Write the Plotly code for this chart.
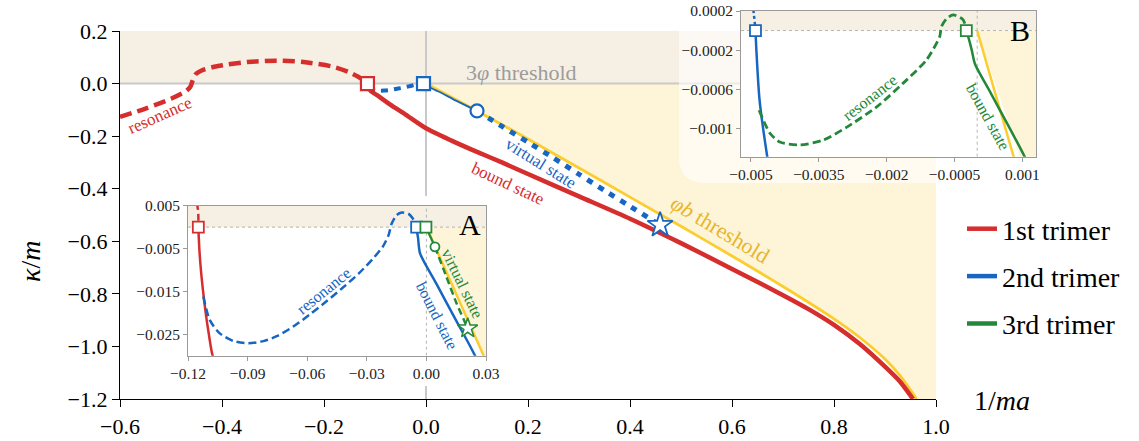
import plotly.graph_objects as go

W, H = 1139, 441
FONT = "Liberation Serif"

# ---------------- data ----------------
# phi-b threshold (shared by main panel and insets)
thr_x = [0, 0.1, 0.2, 0.3, 0.4, 0.5, 0.6, 0.7, 0.8, 0.85, 0.9, 0.93, 0.962]
thr_y = [0, -0.104, -0.211, -0.321, -0.432, -0.543, -0.656, -0.772, -0.895, -0.965, -1.048, -1.112, -1.2]

# 1st trimer
red_res_x = [-0.6, -0.55, -0.5, -0.47, -0.462, -0.457, -0.452, -0.44, -0.41, -0.35, -0.293, -0.24,
             -0.182, -0.15, -0.133, -0.1153, -0.1148]
red_res_y = [-0.127, -0.095, -0.058, -0.028, -0.012, 0.015, 0.035, 0.05, 0.066, 0.082, 0.087, 0.082,
             0.064, 0.043, 0.026, 0.005, 0.0]
red_bound_x = [-0.1148, -0.1143, -0.1135, -0.1124, -0.1111, -0.1095, -0.1076, -0.097, -0.07, -0.04, 0, 0.05,
               0.1, 0.15, 0.2, 0.3, 0.4, 0.5, 0.6, 0.7, 0.75, 0.8, 0.85, 0.9, 0.93, 0.955]
red_bound_y = [0, -0.005, -0.01, -0.015, -0.02, -0.025, -0.03, -0.043, -0.08, -0.118, -0.17, -0.217,
               -0.26, -0.301, -0.344, -0.429, -0.514, -0.607, -0.705, -0.805, -0.858, -0.918, -0.99,
               -1.077, -1.135, -1.2]

# 2nd trimer
blue_res_x = [-0.1123, -0.109, -0.104, -0.097, -0.0896, -0.082, -0.075, -0.067, -0.059, -0.05, -0.042,
              -0.034, -0.027, -0.022, -0.019, -0.0175, -0.015, -0.0124, -0.009, -0.0065, -0.0051, -0.0049]
blue_res_y = [-0.0162, -0.0217, -0.0248, -0.0266, -0.0271, -0.0266, -0.0254, -0.0232, -0.0205, -0.0172,
              -0.0141, -0.0108, -0.0074, -0.0046, -0.0018, 0.0008, 0.0028, 0.0034, 0.0031, 0.0018, 0.0006, 0.0]
blue_bound_x = [-0.0049, -0.00488, -0.00481, -0.00464, -0.0042, -0.0032, 0.005, 0.015, 0.0245, 0.06, 0.1]
blue_bound_y = [0, -0.0002, -0.00071, -0.00129, -0.0025, -0.0061, -0.0132, -0.0218, -0.03, -0.066, -0.104]
blue_virt_x = [0.1, 0.15, 0.2, 0.25, 0.3, 0.35, 0.4, 0.459]
blue_virt_y = [-0.104, -0.164, -0.223, -0.283, -0.345, -0.407, -0.467, -0.538]

# 3rd trimer
green_res_x = [-0.00482, -0.00458, -0.00436, -0.00392, -0.0034, -0.00289, -0.00222, -0.00164, -0.00112,
               -0.00083, -0.00079, -0.00068, -0.00053, -0.00031, -0.00024]
green_res_y = [-0.000815, -0.00105, -0.00114, -0.00117, -0.00112, -0.00099, -0.00078, -0.00054, -0.0003,
               -0.000064, 0.00004, 0.00012, 0.00016, 0.00011, 0.0]
green_bound_x = [-0.00024, -0.0002, -0.00012, -0.00005, 0.0003, 0.00105, 0.0025, 0.0043]
green_bound_y = [0, -0.00006, -0.0002, -0.00034, -0.00064, -0.00129, -0.0027, -0.0046]
green_virt_x = [0.0043, 0.01, 0.0152, 0.0208]
green_virt_y = [-0.0046, -0.0115, -0.0178, -0.0236]

# axes ticks
main_xticks = [-0.6, -0.4, -0.2, 0.0, 0.2, 0.4, 0.6, 0.8, 1.0]
main_yticks = [0.2, 0.0, -0.2, -0.4, -0.6, -0.8, -1.0, -1.2]
a_xticks = [-0.12, -0.09, -0.06, -0.03, 0.0, 0.03]
a_xlabels = ["\u22120.12", "\u22120.09", "\u22120.06", "\u22120.03", "0.00", "0.03"]
a_yticks = [0.005, -0.005, -0.015, -0.025]
a_ylabels = ["0.005", "\u22120.005", "\u22120.015", "\u22120.025"]
b_xticks = [-0.005, -0.0035, -0.002, -0.0005, 0.001]
b_xlabels = ["\u22120.005", "\u22120.0035", "\u22120.002", "\u22120.0005", "0.001"]
b_yticks = [0.0002, -0.0002, -0.0006, -0.001]
b_ylabels = ["0.0002", "\u22120.0002", "\u22120.0006", "\u22120.001"]

legend_names = ["1st trimer", "2nd trimer", "3rd trimer"]

# ---------------- style ----------------
RED, BLUE, GREEN = "#d62d2d", "#1766c2", "#23883a"
YEL, YEL_TXT = "#fbcd2f", "#e6b62c"
BEIGE, YFILL, GREY = "#f6efe3", "#fef4d8", "#c9c9c9"

MAIN_X = [-0.6, 1.0]
MAIN_Y = [-1.2, 0.2]
A_X = [-0.12, 0.03]
A_Y = [-0.030, 0.005]
B_X = [-0.00522, 0.0013]
B_Y = [-0.00129, 0.0002]

fig = go.Figure()


def add_line(x, y, color, width, dash=None, ax="", shape="spline"):
    fig.add_trace(go.Scatter(
        x=x, y=y, mode="lines",
        line=dict(color=color, width=width, dash=dash, shape=shape, smoothing=0.7),
        xaxis="x" + ax, yaxis="y" + ax, showlegend=False, hoverinfo="skip"))


def add_marker(x, y, color, symbol, size, ax="", lw=2.0):
    fig.add_trace(go.Scatter(
        x=[x], y=[y], mode="markers",
        marker=dict(symbol=symbol, size=size, color="white", line=dict(color=color, width=lw)),
        xaxis="x" + ax, yaxis="y" + ax, showlegend=False, hoverinfo="skip"))


fill_x = thr_x + [1.0, 1.0]
fill_y = thr_y + [-1.2, 0.0]


def add_fill(ax):
    fig.add_trace(go.Scatter(x=fill_x, y=fill_y, mode="lines", fill="toself", fillcolor=YFILL,
                             line=dict(width=0, shape="spline", smoothing=0.5), xaxis="x" + ax, yaxis="y" + ax,
                             showlegend=False, hoverinfo="skip"))


# ---------------- main panel ----------------
add_fill("")
add_line(MAIN_X, [0, 0], GREY, 2, ax="", shape="linear")
add_line([0, 0], MAIN_Y, GREY, 2, ax="", shape="linear")
add_line(thr_x, thr_y, YEL, 2.8)
add_line(red_res_x, red_res_y, RED, 4.5, dash="12px,6px")
add_line(red_bound_x, red_bound_y, RED, 4.5)
add_line(blue_res_x, blue_res_y, BLUE, 4, dash="7px,6px")
add_line(blue_bound_x, blue_bound_y, BLUE, 1.8)
add_line(blue_virt_x, blue_virt_y, BLUE, 5, dash="6px,7px")
add_marker(red_bound_x[0], red_bound_y[0], RED, "square", 13, lw=2.2)
add_marker(blue_bound_x[0], blue_bound_y[0], BLUE, "square", 13, lw=2.2)
add_marker(blue_virt_x[0], blue_virt_y[0], BLUE, "circle", 13, lw=2.2)
add_marker(blue_virt_x[-1], blue_virt_y[-1], BLUE, "star", 19, lw=1.8)

# box layer (x2/y2) - invisible helper subplot spanning the whole figure
fig.add_trace(go.Scatter(x=[None], y=[None], xaxis="x2", yaxis="y2", showlegend=False))

# ---------------- inset A (x3/y3) ----------------
add_fill("3")
add_line(A_X, [0, 0], "#b5b5b5", 1, dash="dot", ax="3", shape="linear")
add_line([0, 0], A_Y, "#b5b5b5", 1, dash="dot", ax="3", shape="linear")
add_line(thr_x, thr_y, YEL, 2.5, ax="3")
add_line(red_res_x, red_res_y, RED, 2.5, dash="7px,4px", ax="3")
add_line(red_bound_x, red_bound_y, RED, 2.5, ax="3")
add_line(blue_res_x, blue_res_y, BLUE, 2.5, dash="8px,4px", ax="3")
add_line(blue_bound_x, blue_bound_y, BLUE, 2.5, ax="3")
add_line(green_bound_x, green_bound_y, GREEN, 2.2, ax="3")
add_line(green_virt_x, green_virt_y, GREEN, 2.5, dash="7px,4px", ax="3")
add_marker(red_bound_x[0], red_bound_y[0], RED, "square", 11, ax="3", lw=1.8)
add_marker(blue_bound_x[0], blue_bound_y[0], BLUE, "square", 11, ax="3", lw=1.8)
add_marker(green_bound_x[0], green_bound_y[0], GREEN, "square", 11, ax="3", lw=1.8)
add_marker(green_virt_x[0], green_virt_y[0], GREEN, "circle", 9, ax="3", lw=1.8)
add_marker(green_virt_x[-1], green_virt_y[-1], GREEN, "star", 15, ax="3", lw=1.5)

# ---------------- inset B (x4/y4) ----------------
add_fill("4")
add_line(B_X, [0, 0], "#b5b5b5", 1, dash="dot", ax="4", shape="linear")
add_line([0, 0], B_Y, "#b5b5b5", 1, dash="dot", ax="4", shape="linear")
add_line(thr_x, thr_y, YEL, 2.5, ax="4")
add_line(blue_res_x, blue_res_y, BLUE, 2.5, dash="3px,3px", ax="4")
add_line(blue_bound_x, blue_bound_y, BLUE, 2.5, ax="4")
add_line(green_res_x, green_res_y, GREEN, 2.8, dash="8px,4px", ax="4")
add_line(green_bound_x, green_bound_y, GREEN, 2.5, ax="4")
add_marker(blue_bound_x[0], blue_bound_y[0], BLUE, "square", 11, ax="4", lw=1.8)
add_marker(green_bound_x[0], green_bound_y[0], GREEN, "square", 11, ax="4", lw=1.8)

# ---------------- legend entries ----------------
for name, col in zip(legend_names, [RED, BLUE, GREEN]):
    fig.add_trace(go.Scatter(x=[None], y=[None], mode="lines", name=name,
                             line=dict(color=col, width=4.5), legendgroup=name))

# ---------------- shapes ----------------
def rrect(x0, y0, x1, y1, r):
    return (f"M {x0+r},{y0} L {x1-r},{y0} Q {x1},{y0} {x1},{y0+r} L {x1},{y1-r} Q {x1},{y1} {x1-r},{y1} "
            f"L {x0+r},{y1} Q {x0},{y1} {x0},{y1-r} L {x0},{y0+r} Q {x0},{y0} {x0+r},{y0} Z")


shapes = [
    dict(type="rect", xref="x", yref="y", x0=MAIN_X[0], x1=MAIN_X[1], y0=0, y1=MAIN_Y[1],
         fillcolor=BEIGE, line=dict(width=0), layer="below"),
    dict(type="path", xref="x2", yref="y2", path=rrect(126, 196, 500, 386, 10),
         fillcolor="white", line=dict(width=0), layer="below"),
    dict(type="path", xref="x2", yref="y2", path=rrect(679, -30, 1070, 183, 26),
         fillcolor="rgba(255,255,255,0.62)", line=dict(width=0), layer="below"),
    dict(type="rect", xref="x3", yref="y3", x0=A_X[0], x1=A_X[1], y0=A_Y[0], y1=A_Y[1],
         fillcolor="white", line=dict(width=0), layer="below"),
    dict(type="rect", xref="x3", yref="y3", x0=A_X[0], x1=A_X[1], y0=0, y1=A_Y[1],
         fillcolor=BEIGE, line=dict(width=0), layer="below"),
    dict(type="rect", xref="x4", yref="y4", x0=B_X[0], x1=B_X[1], y0=B_Y[0], y1=B_Y[1],
         fillcolor="white", line=dict(width=0), layer="below"),
    dict(type="rect", xref="x4", yref="y4", x0=B_X[0], x1=B_X[1], y0=0, y1=B_Y[1],
         fillcolor=BEIGE, line=dict(width=0), layer="below"),
]

# ---------------- annotations ----------------
def txt(text, x, y, color, size, angle=0, ax="", **kw):
    return dict(text=text, x=x, y=y, xref="x" + ax, yref="y" + ax, showarrow=False,
                xanchor="center", yanchor="middle",
                textangle=angle, font=dict(family=FONT, size=size, color=color), **kw)


annotations = [
    txt("3<i>φ</i> threshold", 0.188, 0.044, "#9c9c9c", 22),
    txt("resonance", -0.522, -0.123, RED, 17, -24),
    txt("bound state", 0.16, -0.379, RED, 17, 25),
    txt("virtual state", 0.225, -0.303, BLUE, 17, 32),
    txt("<i>φb</i> threshold", 0.578, -0.554, YEL_TXT, 22, 31),
    txt("resonance", -0.0514, -0.0149, BLUE, 16, -39, ax="3"),
    txt("bound state", 0.0052, -0.0207, BLUE, 16, 63, ax="3"),
    txt("virtual state", 0.0182, -0.0131, GREEN, 16, 64, ax="3"),
    txt("A", 0.0219, 0.0005, "black", 30, ax="3"),
    txt("resonance", -0.00237, -0.000687, GREEN, 16, -38, ax="4"),
    txt("bound state", 0.00024, -0.000875, GREEN, 16, 61, ax="4"),
    txt("B", 0.00094, 0.000005, "black", 30, ax="4"),
    dict(text="<i>κ</i>/<i>m</i>", x=30 / W, y=1 - 262 / H, xref="paper", yref="paper",
         xanchor="center", yanchor="middle",
         showarrow=False, textangle=-90, font=dict(family=FONT, size=28, color="black")),
    dict(text="1/<i>ma</i>", x=1002 / W, y=1 - 400 / H, xref="paper", yref="paper",
         xanchor="center", yanchor="middle",
         showarrow=False, font=dict(family=FONT, size=28, color="black")),
]

# ---------------- axes ----------------
def main_axis(**kw):
    d = dict(showgrid=False, zeroline=False, showline=True, linecolor="black", linewidth=1.3,
             ticks="outside", ticklen=7, tickwidth=1.3, tickcolor="black", automargin=False,
             tickfont=dict(family=FONT, size=22, color="black"), tickformat=".1f")
    d.update(kw)
    return d


def inset_axis(**kw):
    d = dict(showgrid=False, zeroline=False, showline=True, mirror=True, linecolor="#9a9a9a",
             linewidth=1, ticks="outside", ticklen=4, tickwidth=1, tickcolor="#9a9a9a", automargin=False,
             tickfont=dict(family=FONT, size=15.5, color="#222"), tickmode="array")
    d.update(kw)
    return d


fig.update_layout(
    width=W, height=H,
    margin=dict(l=0, r=0, t=0, b=0, pad=0, autoexpand=False),
    paper_bgcolor="white", plot_bgcolor="rgba(0,0,0,0)",
    font=dict(family=FONT),
    hovermode=False,
    xaxis=main_axis(domain=[120 / W, 936 / W], range=MAIN_X, tickvals=main_xticks, anchor="y"),
    yaxis=main_axis(domain=[42 / H, 410 / H], range=MAIN_Y, tickvals=main_yticks, anchor="x"),
    xaxis2=dict(domain=[0, 1], range=[0, W], visible=False, anchor="y2", fixedrange=True),
    yaxis2=dict(domain=[0, 1], range=[H, 0], visible=False, anchor="x2", fixedrange=True),
    xaxis3=inset_axis(domain=[188 / W, 486 / W], range=A_X, tickvals=a_xticks, ticktext=a_xlabels, anchor="y3"),
    yaxis3=inset_axis(domain=[(H - 355.7) / H, (H - 205.7) / H], range=A_Y, tickvals=a_yticks,
                      ticktext=a_ylabels, anchor="x3"),
    xaxis4=inset_axis(domain=[741 / W, 1036 / W], range=B_X, tickvals=b_xticks, ticktext=b_xlabels, anchor="y4"),
    yaxis4=inset_axis(domain=[(H - 156.7) / H, (H - 11) / H], range=B_Y, tickvals=b_yticks,
                      ticktext=b_ylabels, anchor="x4"),
    shapes=shapes,
    annotations=annotations,
    showlegend=True,
    legend=dict(x=962 / W, y=1 - 204 / H, xanchor="left", yanchor="top",
                font=dict(family=FONT, size=28, color="black"),
                bgcolor="rgba(0,0,0,0)", tracegroupgap=8, itemwidth=30),
)

fig.write_html("out.html", config={"displayModeBar": False},
               post_script="document.body.style.margin='0px';")
